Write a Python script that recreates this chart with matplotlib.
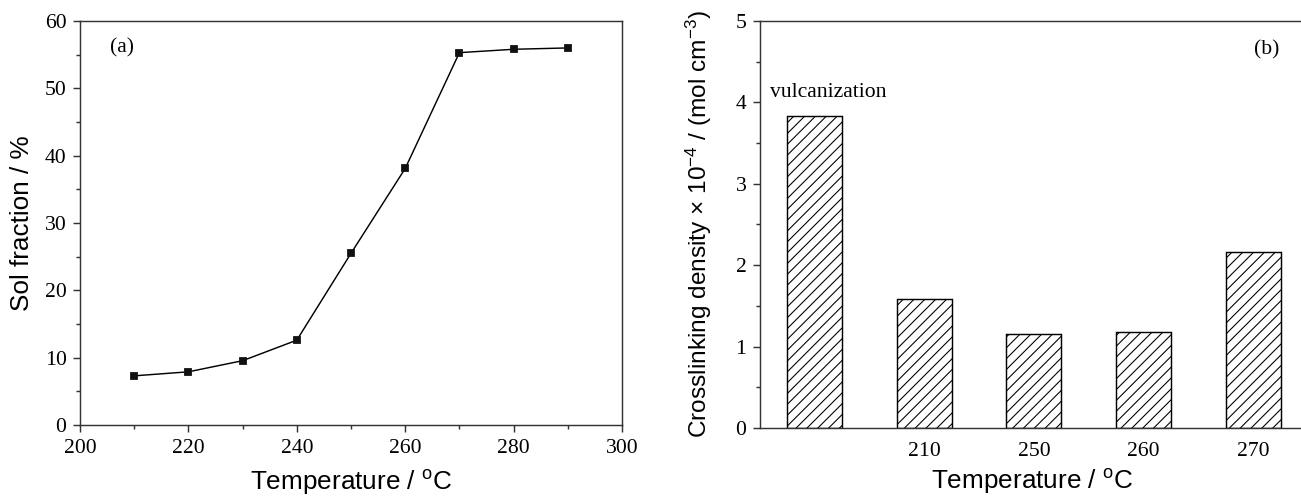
#!/usr/bin/env python3
import numpy as np
import matplotlib
matplotlib.use('Agg')
import matplotlib.pyplot as plt
from matplotlib.ticker import MultipleLocator

# (a) sol fraction vs temperature
temps = [210, 220, 230, 240, 250, 260, 270, 280, 290]
sol_fraction = [7.3, 7.9, 9.55, 12.6, 25.5, 38.1, 55.3, 55.8, 56.0]

# (b) crosslinking density per sample
samples = ['', '210', '250', '260', '270']
crosslink = [3.83, 1.58, 1.157, 1.185, 2.16]

plt.rcParams['font.family'] = ['Liberation Sans', 'DejaVu Sans']
plt.rcParams['mathtext.fontset'] = 'custom'
plt.rcParams['mathtext.rm'] = 'Liberation Sans'
plt.rcParams['mathtext.it'] = 'Liberation Sans:italic'
plt.rcParams['hatch.linewidth'] = 0.6

DPI = 130
fig = plt.figure(figsize=(1301/DPI, 499/DPI), dpi=DPI)
ax1 = fig.add_axes([80/1301, 74/499, 542/1301, 404/499])
ax2 = fig.add_axes([760/1301, 71/499, 545/1301, 407/499])

serif = 'Liberation Serif'
tick_fs = 12
label_fs = 14.5
spine_c = '#333333'

for ax in (ax1, ax2):
    for s in ax.spines.values():
        s.set_linewidth(0.8)
        s.set_color(spine_c)
    ax.tick_params(which='major', direction='out', length=4, width=0.8,
                   color=spine_c, labelsize=tick_fs)
    ax.tick_params(which='minor', direction='out', length=2.2, width=0.8,
                   color=spine_c)

# panel (a)
ax1.plot(temps, sol_fraction, '-', color='black', lw=0.8,
         marker='s', markersize=3.3, markerfacecolor='#111111', markeredgecolor='#111111')
ax1.set_xlim(200, 300)
ax1.set_ylim(0, 60)
ax1.xaxis.set_major_locator(MultipleLocator(20))
ax1.xaxis.set_minor_locator(MultipleLocator(10))
ax1.yaxis.set_major_locator(MultipleLocator(10))
ax1.yaxis.set_minor_locator(MultipleLocator(5))
ax1.set_xlabel(r'Temperature / $^{\rm o}$C', fontsize=label_fs, labelpad=6)
ax1.set_ylabel('Sol fraction / %', fontsize=label_fs, labelpad=6)
ax1.text(207.7, 56, '(a)', fontsize=tick_fs, family=serif, ha='center', va='center')
for lab in ax1.get_xticklabels() + ax1.get_yticklabels():
    lab.set_fontfamily(serif)

# panel (b)
x = np.arange(len(samples))
ax2.bar(x, crosslink, width=0.5, color='white', edgecolor='black',
        linewidth=0.8, hatch='////')
ax2.set_xlim(-0.495, 4.47)
ax2.set_ylim(0, 5)
ax2.set_xticks(x)
ax2.set_xticklabels(samples)
ax2.tick_params(axis='x', which='both', length=0, pad=8)
ax2.yaxis.set_major_locator(MultipleLocator(1))
ax2.yaxis.set_minor_locator(MultipleLocator(0.5))
ax2.spines['right'].set_visible(False)
ax2.set_xlabel(r'Temperature / $^{\rm o}$C', fontsize=label_fs, labelpad=3)
ax2.set_ylabel(r'Crosslinking density $\times$ 10$^{-4}$ / (mol cm$^{-3}$)',
               fontsize=13.5, labelpad=12)
ax2.text(0.127, 4.12, 'vulcanization', fontsize=tick_fs, family=serif,
         ha='center', va='center')
ax2.text(4.12, 4.64, '(b)', fontsize=tick_fs, family=serif, ha='center', va='center')
for lab in ax2.get_xticklabels() + ax2.get_yticklabels():
    lab.set_fontfamily(serif)

fig.savefig('out.png', dpi=DPI)
